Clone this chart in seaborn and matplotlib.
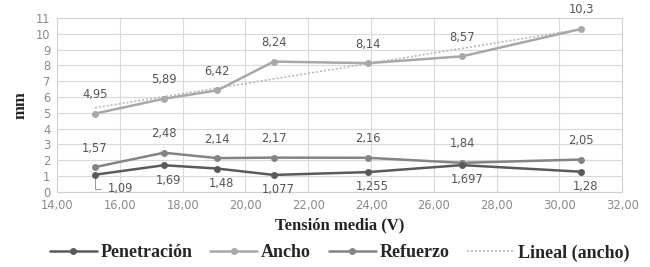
import numpy as np
import matplotlib
matplotlib.use("Agg")
import matplotlib.pyplot as plt
import seaborn as sns
from matplotlib.ticker import FuncFormatter, MultipleLocator

tension = [15.2, 17.4, 19.1, 20.9, 23.9, 26.9, 30.7]
penetracion = [1.09, 1.69, 1.48, 1.077, 1.255, 1.697, 1.28]
ancho = [4.95, 5.89, 6.42, 8.24, 8.14, 8.57, 10.3]
refuerzo = [1.57, 2.48, 2.14, 2.17, 2.16, 1.84, 2.05]

pen_labels = ["1,09", "1,69", "1,48", "1,077", "1,255", "1,697", "1,28"]
anc_labels = ["4,95", "5,89", "6,42", "8,24", "8,14", "8,57", "10,3"]
ref_labels = ["1,57", "2,48", "2,14", "2,17", "2,16", "1,84", "2,05"]

sns.set_style("white")
plt.rcParams['font.family'] = ['DejaVu Sans']

fig = plt.figure(figsize=(6.5, 2.67), dpi=100)
ax = fig.add_axes([0.088, 0.281, 0.869, 0.652])

c_pen = "#5a5a5a"
c_anc = "#a8a8a8"
c_ref = "#848484"
lbl_col = "#555555"

# linear trend of ancho
k, b = np.polyfit(tension, ancho, 1)
trend_x = np.array([tension[0], tension[-1]])
sns.lineplot(x=trend_x, y=k * trend_x + b, ax=ax, color="#b8b8b8", lw=1.2,
             linestyle=(0, (1.2, 1.2)), label="Lineal (ancho)", zorder=2)

sns.lineplot(x=tension, y=penetracion, ax=ax, color=c_pen, lw=1.8, marker="o",
             markersize=5, markeredgewidth=0, label="Penetración", zorder=4)
sns.lineplot(x=tension, y=ancho, ax=ax, color=c_anc, lw=1.8, marker="o",
             markersize=5, markeredgewidth=0, label="Ancho", zorder=3)
sns.lineplot(x=tension, y=refuerzo, ax=ax, color=c_ref, lw=1.8, marker="o",
             markersize=5, markeredgewidth=0, label="Refuerzo", zorder=3)

fs = 8.3
for x, y, t in zip(tension, ancho, anc_labels):
    ax.annotate(t, (x, y), xytext=(0, 9), textcoords="offset points",
                ha="center", va="bottom", fontsize=fs, color=lbl_col)
for x, y, t in zip(tension, refuerzo, ref_labels):
    ax.annotate(t, (x, y), xytext=(0, 9), textcoords="offset points",
                ha="center", va="bottom", fontsize=fs, color=lbl_col)
for i, (x, y, t) in enumerate(zip(tension, penetracion, pen_labels)):
    if i == 0:
        ax.annotate(t, (x, y), xytext=(9, -10), textcoords="offset points",
                    ha="left", va="center", fontsize=fs, color=lbl_col,
                    arrowprops=dict(arrowstyle="-", color="#999999", lw=0.7,
                                    connectionstyle="angle,angleA=0,angleB=90"))
    else:
        dx = 4 if i == 5 else 3
        ax.annotate(t, (x, y), xytext=(dx, -6), textcoords="offset points",
                    ha="center", va="top", fontsize=fs, color=lbl_col)

ax.set_xlim(14, 32)
ax.set_ylim(0, 11)
ax.xaxis.set_major_locator(MultipleLocator(2))
ax.yaxis.set_major_locator(MultipleLocator(1))
ax.xaxis.set_major_formatter(FuncFormatter(lambda v, p: f"{v:.2f}".replace(".", ",")))
ax.grid(True, color="#d9d9d9", lw=0.8)
ax.set_axisbelow(True)
for s in ax.spines.values():
    s.set_color("#d0d0d0")
    s.set_linewidth(0.8)
ax.tick_params(axis="both", labelsize=8.3, colors="#8a8a8a", length=0, pad=5)

serif = ["Liberation Serif", "DejaVu Serif"]
ax.set_xlabel("Tensión media (V)", fontsize=12, fontweight="bold", family=serif,
              color="#222222", labelpad=4)
ax.set_ylabel("mm", fontsize=12, fontweight="bold", family=serif,
              color="#222222", labelpad=5)

handles, labels = ax.get_legend_handles_labels()
order = [1, 2, 3, 0]
ax.legend([handles[i] for i in order], [labels[i] for i in order],
          loc="center", bbox_to_anchor=(0.5, -0.35), ncol=4, frameon=False,
          prop={"family": serif, "weight": "bold", "size": 13},
          handlelength=2.6, columnspacing=1.0, handletextpad=0.2,
          borderpad=0.1)

fig.savefig("out.png", dpi=100)
